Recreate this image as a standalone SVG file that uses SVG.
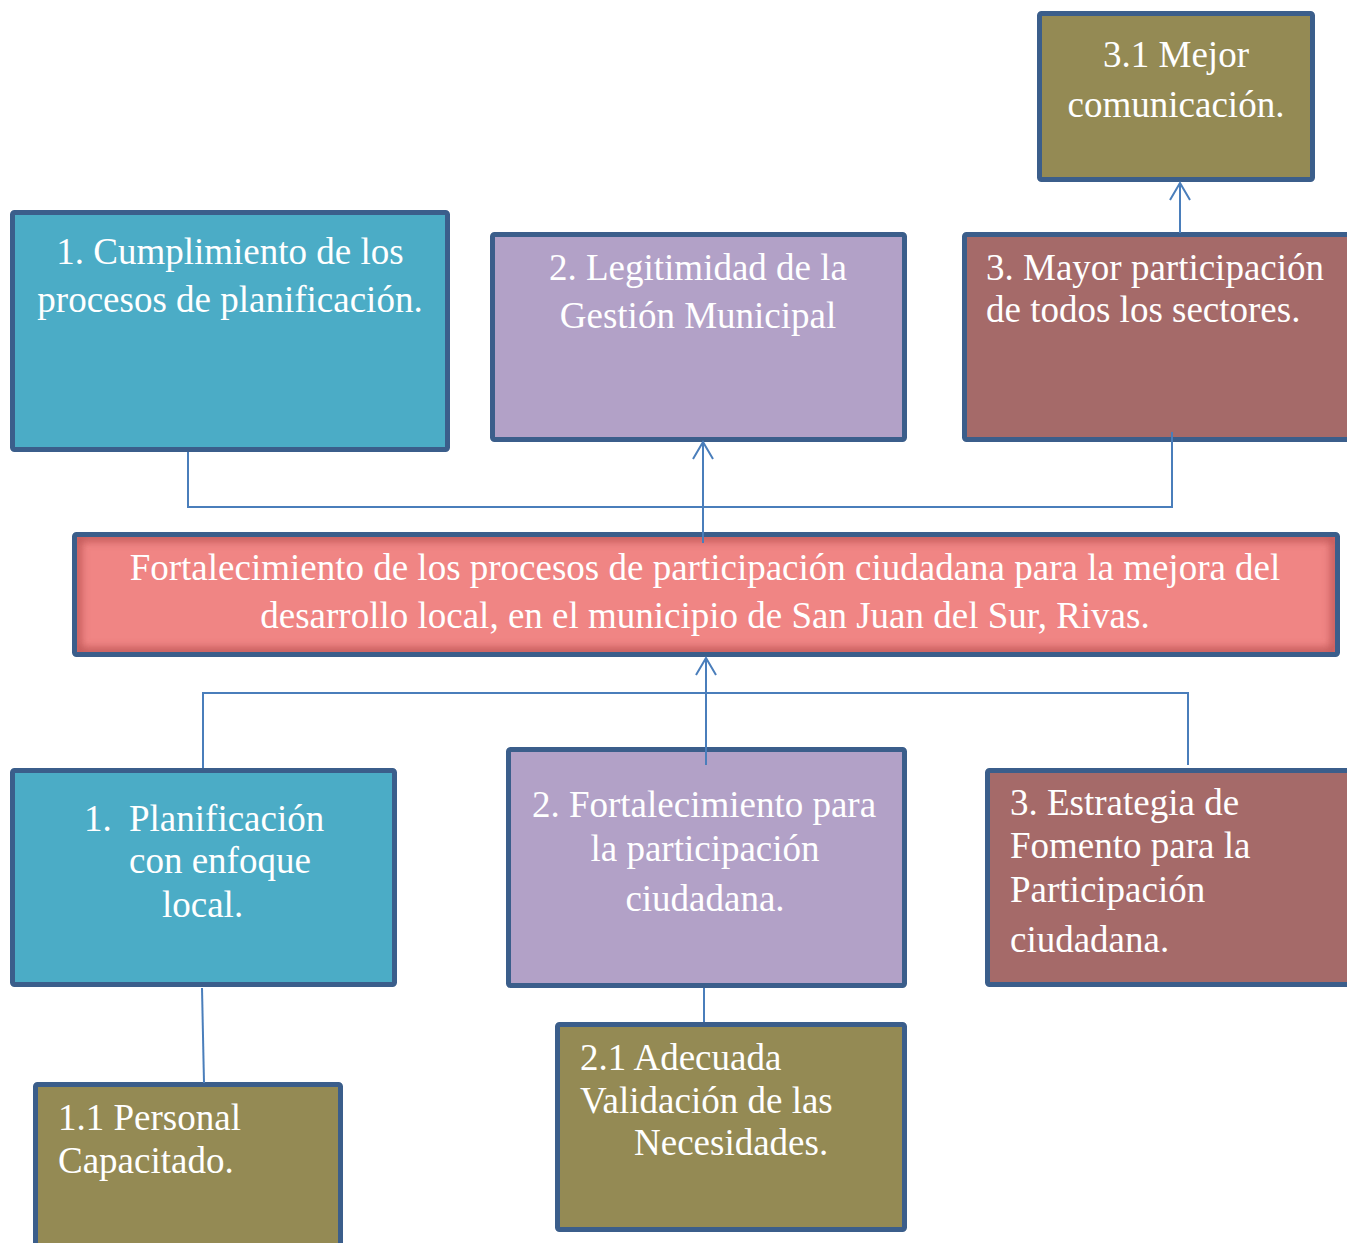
<svg xmlns="http://www.w3.org/2000/svg" width="1347" height="1243" viewBox="0 0 1347 1243">
<style>
  .box { stroke: #3B5E8B; stroke-width: 5; }
  .teal { fill: #4BACC6; }
  .lav { fill: #B2A1C7; }
  .rose { fill: #A56A69; }
  .olive { fill: #948A54; }
  .t { font-family: "Liberation Serif", "Times New Roman", serif; font-size: 37px; fill: #FFFFFF; }
  .c { text-anchor: middle; }
  .conn { stroke: #4A7EBB; stroke-width: 2; fill: none; }
</style>
<defs>
  <marker id="arr" markerUnits="userSpaceOnUse" markerWidth="40" markerHeight="40" refX="0" refY="0" orient="auto" viewBox="-20 -20 40 40" overflow="visible">
    <path d="M -17 -10 L 0 0 L -17 10" fill="none" stroke="#4A7EBB" stroke-width="2"/>
  </marker>
  <clipPath id="cclip"><rect x="77" y="537" width="1258" height="115"/></clipPath>
  <filter id="blur" x="-5%" y="-20%" width="110%" height="140%"><feGaussianBlur stdDeviation="4"/></filter>
</defs>
<rect width="1347" height="1243" fill="#FFFFFF"/>

<g id="box-cumplimiento">
  <rect class="box teal" x="12.5" y="212.5" width="435" height="237" rx="2"/>
  <text class="t c" x="230" y="264">1. Cumplimiento de los</text>
  <text class="t c" x="230" y="312">procesos de planificación.</text>
</g>

<g id="box-legitimidad">
  <rect class="box lav" x="492.5" y="234.5" width="412" height="205" rx="2"/>
  <text class="t c" x="698" y="280">2. Legitimidad de la</text>
  <text class="t c" x="698" y="328">Gestión Municipal</text>
</g>

<g id="box-mayor">
  <rect class="box rose" x="964.5" y="234.5" width="400" height="205" rx="2"/>
  <text class="t" x="986" y="280">3. Mayor participación</text>
  <text class="t" x="986" y="322">de todos los sectores.</text>
</g>

<g id="box-mejor">
  <rect class="box olive" x="1039.5" y="13.5" width="273" height="166" rx="2"/>
  <text class="t c" x="1176" y="67">3.1 Mejor</text>
  <text class="t c" x="1176" y="117">comunicación.</text>
</g>

<g id="box-central">
  <rect x="74.5" y="534.5" width="1263" height="120" fill="#F08584"/>
  <g clip-path="url(#cclip)">
    <rect x="77" y="537" width="1258" height="115" fill="none" stroke="#B04A4A" stroke-width="8" filter="url(#blur)" opacity="0.8"/>
  </g>
  <rect x="74.5" y="534.5" width="1263" height="120" fill="none" class="box" rx="2"/>
  <text class="t c" x="705" y="580">Fortalecimiento de los procesos de participación ciudadana para la mejora del</text>
  <text class="t c" x="705" y="628">desarrollo local, en el municipio de San Juan del Sur, Rivas.</text>
</g>

<g id="box-planificacion">
  <rect class="box teal" x="12.5" y="770.5" width="382" height="214" rx="2"/>
  <text class="t" x="84" y="831">1.</text>
  <text class="t" x="129" y="831">Planificación</text>
  <text class="t" x="129" y="873">con enfoque</text>
  <text class="t" x="162" y="917">local.</text>
</g>

<g id="box-fortalecimiento">
  <rect class="box lav" x="508.5" y="749.5" width="396" height="236" rx="2"/>
  <text class="t c" x="704" y="817">2. Fortalecimiento para</text>
  <text class="t c" x="705" y="861">la participación</text>
  <text class="t c" x="705" y="911">ciudadana.</text>
</g>

<g id="box-estrategia">
  <rect class="box rose" x="987.5" y="770.5" width="400" height="214" rx="2"/>
  <text class="t" x="1010" y="815">3. Estrategia de</text>
  <text class="t" x="1010" y="858">Fomento para la</text>
  <text class="t" x="1010" y="902">Participación</text>
  <text class="t" x="1010" y="952">ciudadana.</text>
</g>

<g id="box-personal">
  <rect class="box olive" x="35.5" y="1084.5" width="305" height="200" rx="2"/>
  <text class="t" x="58" y="1130">1.1 Personal</text>
  <text class="t" x="58" y="1173">Capacitado.</text>
</g>

<g id="box-adecuada">
  <rect class="box olive" x="557.5" y="1024.5" width="347" height="205" rx="2"/>
  <text class="t" x="580" y="1070">2.1 Adecuada</text>
  <text class="t" x="580" y="1113">Validación de las</text>
  <text class="t" x="634" y="1155">Necesidades.</text>
</g>

<g id="connectors">
  <polyline class="conn" points="188,452 188,507 1172,507 1172,432"/>
  <line class="conn" x1="703" y1="543" x2="703" y2="442" marker-end="url(#arr)"/>
  <line class="conn" x1="1180" y1="233" x2="1180" y2="183" marker-end="url(#arr)"/>
  <polyline class="conn" points="203,768 203,693 1188,693 1188,765"/>
  <line class="conn" x1="706" y1="765" x2="706" y2="658" marker-end="url(#arr)"/>
  <line class="conn" x1="202" y1="988" x2="204" y2="1083"/>
  <line class="conn" x1="704" y1="988" x2="704" y2="1022"/>
</g>
</svg>
